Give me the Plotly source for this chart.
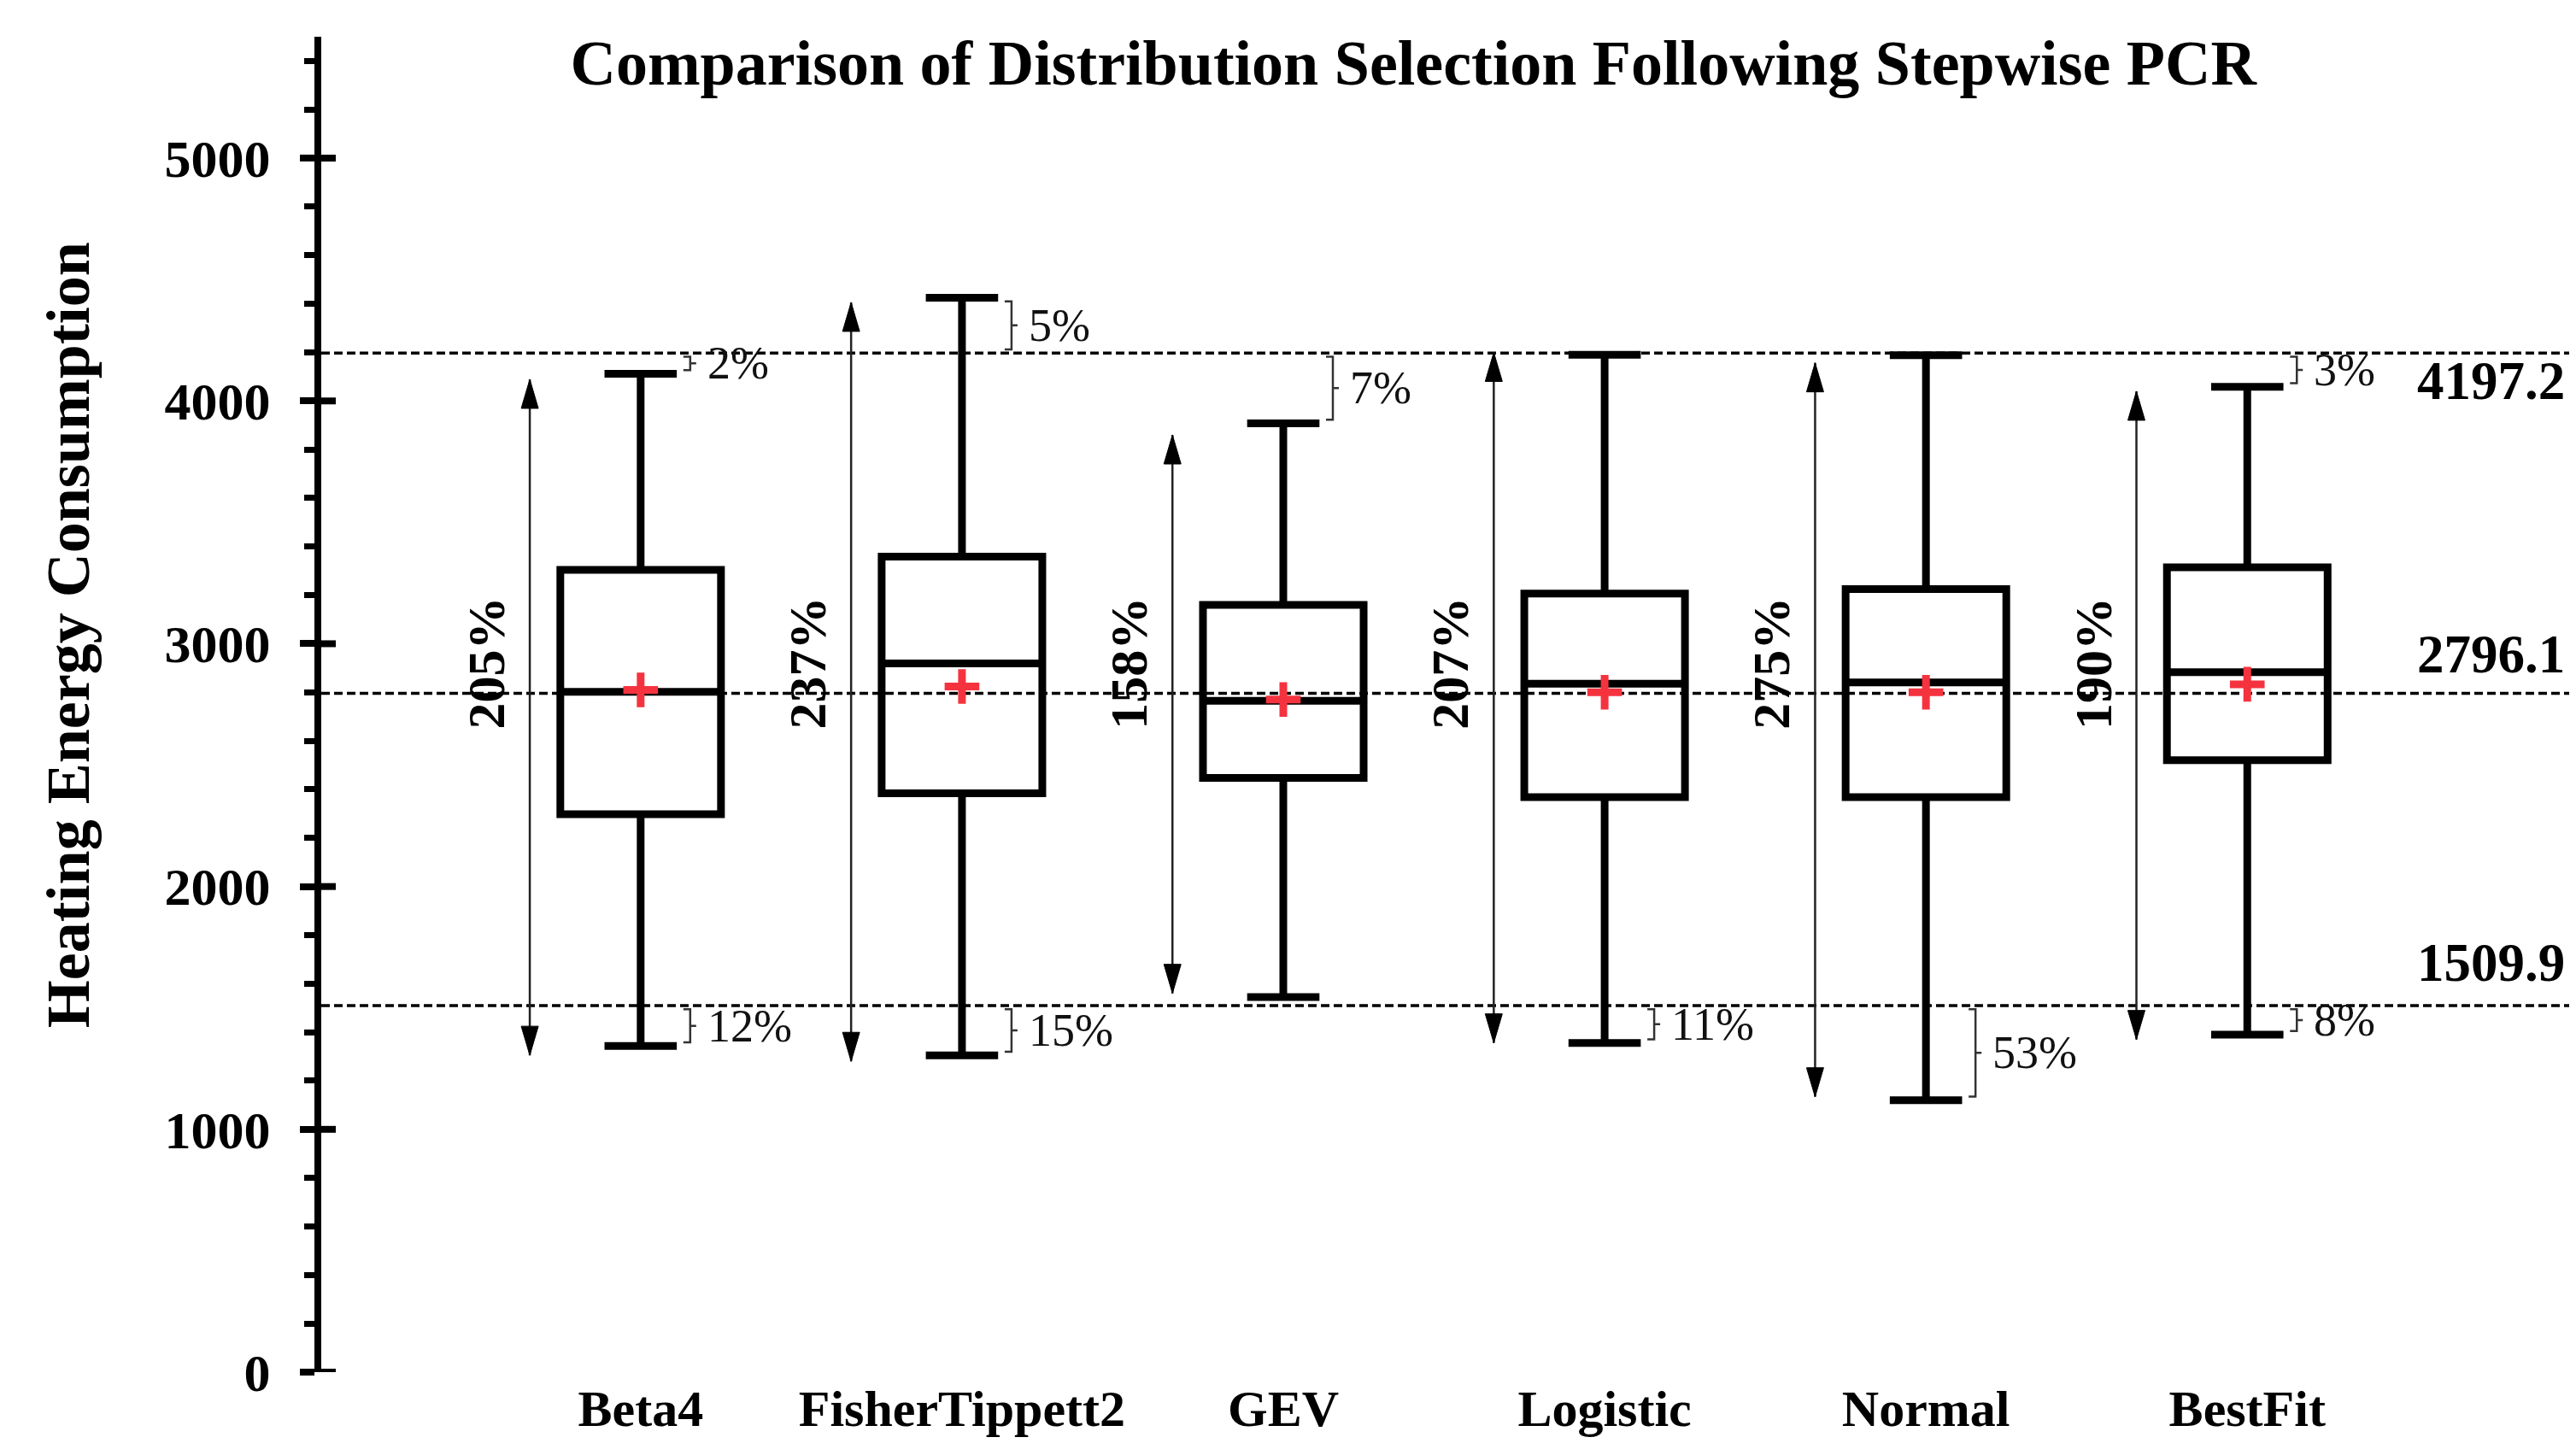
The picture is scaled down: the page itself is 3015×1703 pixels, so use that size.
import plotly.graph_objects as go

# ---------------- data ----------------
categories = ["Beta4", "FisherTippett2", "GEV", "Logistic", "Normal", "BestFit"]
q1 = [2298, 2384, 2447, 2368, 2368, 2520]
median = [2802, 2919, 2765, 2835, 2841, 2883]
q3 = [3304, 3359, 3160, 3207, 3225, 3315]
lower_whisker = [1343, 1305, 1545, 1356, 1120, 1390]
upper_whisker = [4112, 4425, 3908, 4190, 4188, 4058]
mean = [2810, 2824, 2770, 2800, 2800, 2833]
arrow_top = [4089, 4406, 3860, 4200, 4157, 4040]
arrow_bottom = [1305, 1280, 1560, 1356, 1134, 1370]
range_labels = ["205%", "237%", "158%", "207%", "275%", "190%"]
ref_values = [4197.2, 2796.1, 1509.9]
ref_labels = ["4197.2", "2796.1", "1509.9"]
upper_exceed = ["2%", "5%", "7%", None, None, "3%"]
lower_exceed = ["12%", "15%", None, "11%", "53%", "8%"]
y_ticks = [0, 1000, 2000, 3000, 4000, 5000]

FONT = "Liberation Serif"
idx = list(range(len(categories)))

fig = go.Figure()

for i in idx:
    fig.add_trace(go.Box(
        x=[i], q1=[q1[i]], median=[median[i]], q3=[q3[i]],
        lowerfence=[lower_whisker[i]], upperfence=[upper_whisker[i]],
        width=0.5, whiskerwidth=0.45,
        line=dict(color="black", width=9),
        fillcolor="rgba(255,255,255,0)",
        boxpoints=False, showlegend=False, hoverinfo="skip",
    ))

fig.add_trace(go.Scatter(
    x=idx, y=mean, mode="markers", showlegend=False, hoverinfo="skip",
    marker=dict(symbol="cross-thin", size=29,
                line=dict(width=9, color="#F5333F")),
))

shapes = []
annotations = []

# reference dashed lines + labels
label_shift = [-33, 45, 50]
for v, lab, ys in zip(ref_values, ref_labels, label_shift):
    shapes.append(dict(type="line", xref="paper", x0=0, x1=1, yref="y",
                       y0=v, y1=v, line=dict(color="black", width=3.5, dash="10px,5px"),
                       layer="below"))
    annotations.append(dict(xref="paper", x=0.9947, xanchor="right", yref="y", y=v,
                            yanchor="middle", yshift=ys, text=lab, showarrow=False,
                            font=dict(family=FONT, size=63, color="black", weight="bold")))

# inside part of major y ticks
for v in y_ticks:
    shapes.append(dict(type="line", xref="paper", xsizemode="pixel", xanchor=0,
                       x0=-4, x1=17, yref="y", y0=v, y1=v,
                       line=dict(color="black", width=8)))

# double-headed range arrows
for i in idx:
    xa = i - 0.345
    shapes.append(dict(type="line", xref="x", x0=xa, x1=xa, yref="y",
                       y0=arrow_bottom[i], y1=arrow_top[i],
                       line=dict(color="#222222", width=2.5)))
    shapes.append(dict(type="path", xref="x", xsizemode="pixel", xanchor=xa,
                       yref="y", ysizemode="pixel", yanchor=arrow_top[i],
                       path="M0,0 L-10,-34 L10,-34 Z",
                       fillcolor="black", line=dict(color="black", width=1)))
    shapes.append(dict(type="path", xref="x", xsizemode="pixel", xanchor=xa,
                       yref="y", ysizemode="pixel", yanchor=arrow_bottom[i],
                       path="M0,0 L-10,34 L10,34 Z",
                       fillcolor="black", line=dict(color="black", width=1)))
    annotations.append(dict(x=i - 0.48, y=2920, xref="x", yref="y", text=range_labels[i],
                            textangle=-90, showarrow=False, xanchor="center",
                            yanchor="middle",
                            font=dict(family=FONT, size=62, color="black", weight="bold")))


def bracket(i, a, b, label):
    lo, hi = min(a, b), max(a, b)
    inset = 15
    lo += inset
    hi -= inset
    mid = (lo + hi) / 2
    path = (f"M50,{hi} L58,{hi} L58,{lo} L50,{lo} "
            f"M58,{mid} L65,{mid}")
    shapes.append(dict(type="path", xref="x", xsizemode="pixel", xanchor=i,
                       yref="y", path=path, line=dict(color="#333333", width=2.5)))
    annotations.append(dict(x=i, xref="x", xanchor="left", xshift=76, y=mid, yref="y",
                            yanchor="middle", text=label, showarrow=False,
                            font=dict(family=FONT, size=54, color="#111111")))


for i in idx:
    if upper_exceed[i]:
        bracket(i, upper_whisker[i], ref_values[0], upper_exceed[i])
    if lower_exceed[i]:
        bracket(i, lower_whisker[i], ref_values[2], lower_exceed[i])

# y-axis title
annotations.append(dict(xref="paper", x=-0.112, yref="paper", y=0.552,
                        text="Heating Energy Consumption", textangle=-90,
                        showarrow=False, xanchor="center", yanchor="middle",
                        font=dict(family=FONT, size=72, color="black", weight="bold")))

fig.update_layout(
    width=3015, height=1703,
    margin=dict(l=368, r=5, t=35, b=105),
    paper_bgcolor="white", plot_bgcolor="white",
    showlegend=False,
    title=dict(text="Comparison of Distribution Selection Following Stepwise PCR",
               x=0.546, xanchor="center", y=0.962, yanchor="middle",
               font=dict(family=FONT, size=74, color="black", weight="bold")),
    xaxis=dict(range=[-0.994, 6.031], tickvals=idx, ticktext=categories,
               showline=False, showgrid=False, zeroline=False, ticks="",
               ticklabelstandoff=2,
               tickfont=dict(family=FONT, size=60, color="black", weight="bold")),
    yaxis=dict(range=[0, 5500], tickvals=y_ticks, showline=True, linewidth=8,
               linecolor="black", ticks="outside", ticklen=17, tickwidth=8,
               tickcolor="black", showgrid=False, zeroline=False,
               ticklabelstandoff=22,
               minor=dict(dtick=200, ticks="outside", ticklen=12, tickwidth=7,
                          tickcolor="black", showgrid=False),
               tickfont=dict(family=FONT, size=62, color="black", weight="bold")),
    shapes=shapes, annotations=annotations,
)

fig.write_html("out.html")
